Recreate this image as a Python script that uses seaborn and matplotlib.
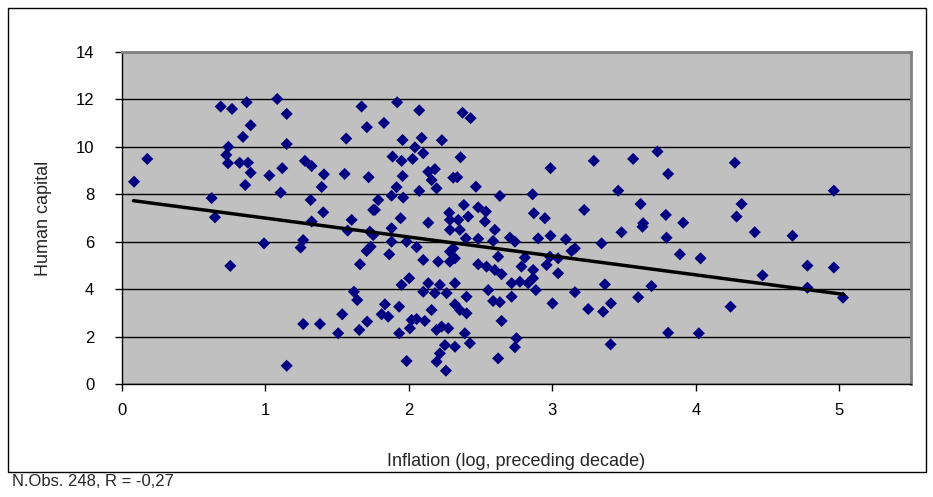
import matplotlib
matplotlib.use("Agg")
import matplotlib.pyplot as plt
from matplotlib.patches import Rectangle
import seaborn as sns
import pandas as pd

inflation = [
    0.688, 0.767, 0.869, 0.897, 0.843, 0.741, 0.727, 0.739, 0.820, 0.878,
    0.897, 0.859, 0.176, 0.084, 0.625, 0.648, 0.755, 1.082, 1.148, 1.670,
    1.707, 1.563, 1.148, 1.275, 1.322, 1.117, 1.027, 1.408, 1.552, 1.719,
    1.392, 1.106, 1.315, 1.403, 1.751, 1.601, 1.322, 1.573, 1.728, 0.990,
    1.263, 1.245, 1.705, 1.733, 1.659, 1.617, 1.640, 1.535, 1.263, 1.380,
    1.507, 1.654, 1.709, 1.148, 1.918, 2.072, 1.826, 1.956, 2.089, 2.230,
    2.042, 2.100, 1.886, 1.949, 2.026, 1.956, 2.135, 2.181, 2.158, 2.193,
    2.309, 1.914, 1.879, 1.960, 2.072, 1.786, 1.763, 1.942, 2.135, 2.281,
    2.286, 2.286, 1.879, 1.751, 1.879, 1.984, 2.054, 1.863, 2.100, 2.204,
    2.286, 2.286, 2.002, 1.949, 2.135, 2.216, 2.100, 2.181, 2.263, 1.833,
    1.932, 1.810, 1.856, 2.158, 2.019, 2.054, 2.111, 2.007, 2.193, 2.228,
    2.274, 1.932, 2.251, 2.216, 2.193, 2.258, 1.984, 2.374, 2.430, 2.360,
    2.337, 2.467, 2.634, 2.862, 2.871, 2.383, 2.483, 2.537, 2.413, 2.344,
    2.530, 2.355, 2.599, 2.397, 2.483, 2.587, 2.704, 2.739, 2.309, 2.321,
    2.622, 2.808, 2.483, 2.541, 2.599, 2.646, 2.785, 2.866, 2.321, 2.716,
    2.774, 2.831, 2.553, 2.716, 2.402, 2.587, 2.634, 2.321, 2.355, 2.402,
    2.646, 2.390, 2.425, 2.321, 2.750, 2.739, 2.622, 2.987, 3.289, 3.563,
    3.733, 3.807, 3.459, 3.615, 3.222, 2.948, 3.633, 3.791, 2.901, 2.987,
    3.094, 3.343, 3.482, 3.628, 3.796, 3.134, 3.157, 2.983, 3.040, 2.960,
    2.866, 3.040, 2.885, 3.157, 3.366, 3.691, 3.598, 3.001, 3.250, 3.354,
    3.408, 3.406, 3.807, 4.272, 4.962, 4.319, 4.284, 3.912, 4.411, 4.674,
    3.889, 4.033, 4.778, 4.962, 4.465, 4.778, 5.026, 4.242, 4.021,
]
human_capital = [
    11.70, 11.60, 11.88, 10.91, 10.42, 10.00, 9.66, 9.31, 9.33, 9.33,
    8.91, 8.39, 9.49, 8.53, 7.84, 7.03, 4.98, 12.02, 11.39, 11.70,
    10.83, 10.35, 10.12, 9.41, 9.19, 9.10, 8.79, 8.84, 8.86, 8.72,
    8.31, 8.07, 7.76, 7.24, 7.34, 6.92, 6.85, 6.47, 6.42, 5.93,
    6.07, 5.75, 5.61, 5.79, 5.05, 3.89, 3.54, 2.94, 2.53, 2.53,
    2.14, 2.28, 2.63, 0.77, 11.88, 11.54, 11.01, 10.29, 10.38, 10.28,
    9.98, 9.73, 9.59, 9.41, 9.49, 8.77, 8.95, 9.06, 8.60, 8.25,
    8.70, 8.30, 7.94, 7.86, 8.14, 7.76, 7.34, 6.99, 6.80, 7.22,
    6.92, 6.50, 6.57, 6.28, 6.00, 6.00, 5.77, 5.47, 5.23, 5.16,
    5.58, 5.16, 4.46, 4.18, 4.25, 4.18, 3.89, 3.83, 3.83, 3.36,
    3.26, 2.94, 2.84, 3.12, 2.70, 2.74, 2.66, 2.35, 2.28, 2.42,
    2.35, 2.14, 1.64, 1.29, 0.94, 0.56, 0.97, 11.44, 11.21, 9.56,
    8.72, 8.32, 7.93, 8.00, 7.20, 7.55, 7.45, 7.27, 7.06, 6.92,
    6.85, 6.50, 6.50, 6.14, 6.12, 6.03, 6.17, 6.00, 5.72, 5.30,
    5.37, 5.33, 5.05, 4.95, 4.81, 4.63, 4.95, 4.81, 4.25, 4.25,
    4.31, 4.25, 3.96, 3.68, 3.68, 3.50, 3.45, 3.36, 3.12, 2.98,
    2.66, 2.14, 1.72, 1.57, 1.93, 1.55, 1.08, 9.10, 9.41, 9.49,
    9.80, 8.86, 8.15, 7.59, 7.34, 6.99, 6.78, 7.13, 6.14, 6.25,
    6.10, 5.93, 6.40, 6.63, 6.17, 5.61, 5.72, 5.37, 5.30, 5.02,
    4.46, 4.67, 3.96, 3.87, 4.20, 4.13, 3.66, 3.40, 3.16, 3.05,
    3.40, 1.67, 2.16, 9.33, 8.15, 7.59, 7.06, 6.80, 6.40, 6.25,
    5.47, 5.30, 4.99, 4.91, 4.58, 4.06, 3.64, 3.26, 2.14,
]
trend_x = [0.08, 5.03]
trend_y = [7.73, 3.78]
x_ticks = [0, 1, 2, 3, 4, 5]
y_ticks = [0, 2, 4, 6, 8, 10, 12, 14]
x_label = "Inflation (log, preceding decade)"
y_label = "Human capital"
note = "N.Obs. 248, R = -0,27"

sns.set_theme(style="white")
plt.rcParams['font.family'] = ['Liberation Sans', 'DejaVu Sans']

W, H = 933, 497
fig = plt.figure(figsize=(W / 100, H / 100), dpi=100)
ax = fig.add_axes([122 / W, 1 - 384 / H, (911 - 122) / W, (384 - 52) / H])
ax.set_facecolor('#C0C0C0')

df = pd.DataFrame({"x": inflation, "y": human_capital})
sns.scatterplot(data=df, x="x", y="y", marker="D", s=38, color="#000080",
                edgecolor="none", linewidth=0, ax=ax, zorder=3)
sns.lineplot(x=trend_x, y=trend_y, color="black", linewidth=2.5, ax=ax, zorder=4)

ax.set_xlim(0, 5.5)
ax.set_ylim(0, 14)
ax.set_xticks(x_ticks)
ax.set_yticks(y_ticks)
ax.set_xticklabels([str(v) for v in x_ticks], fontsize=12)
ax.set_yticklabels([str(v) for v in y_ticks], fontsize=12)
ax.yaxis.grid(True, color="black", linewidth=1)
ax.xaxis.grid(False)
ax.set_axisbelow(True)
ax.tick_params(axis="both", direction="out", length=5, width=1, color="black",
               bottom=True, left=True, labelcolor="black")
ax.tick_params(axis="x", pad=9)
ax.tick_params(axis="y", pad=15)
ax.set_xlabel(x_label, fontsize=13, labelpad=25)
ax.set_ylabel(y_label, fontsize=13, labelpad=17)
for side in ["left", "bottom"]:
    ax.spines[side].set_color("black")
    ax.spines[side].set_linewidth(1)
for side in ["top", "right"]:
    ax.spines[side].set_color("#808080")
    ax.spines[side].set_linewidth(2)

fig.patches.append(Rectangle((8 / W, 1 - 472 / H), (926 - 8) / W, (472 - 8) / H,
                             transform=fig.transFigure, fill=False,
                             edgecolor="black", linewidth=1))
fig.text(12 / W, 1 - 482 / H, note, fontsize=12, ha="left", va="center")

fig.savefig("out.png", dpi=100)
